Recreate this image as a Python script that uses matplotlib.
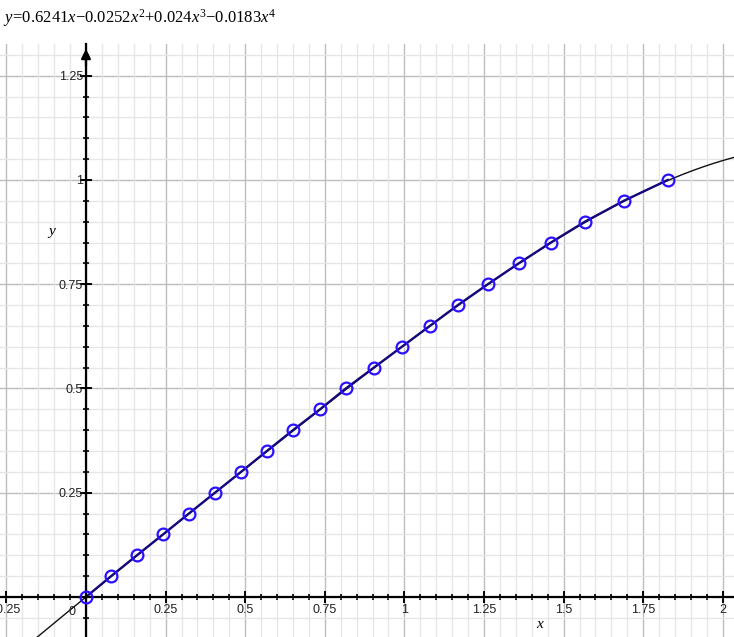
import numpy as np
import matplotlib
matplotlib.use("Agg")
import matplotlib.pyplot as plt
from matplotlib.ticker import MultipleLocator, FixedLocator

# ---- data ----
coef = [0.6241, -0.0252, 0.024, -0.0183]          # x, x^2, x^3, x^4
pts_y = [0.0, 0.05, 0.10, 0.15, 0.20, 0.25, 0.30, 0.35, 0.40, 0.45, 0.50,
         0.55, 0.60, 0.65, 0.70, 0.75, 0.80, 0.85, 0.90, 0.95, 1.00]
pts_x = [0.0, 0.079, 0.160, 0.242, 0.323, 0.405, 0.487, 0.568, 0.650, 0.735,
         0.816, 0.904, 0.992, 1.080, 1.168, 1.262, 1.359, 1.460, 1.567, 1.689, 1.827]
x_ticks = [-0.25, 0.25, 0.5, 0.75, 1, 1.25, 1.5, 1.75, 2]
x_tick_labels = ["-0.25", "0.25", "0.5", "0.75", "1", "1.25", "1.5", "1.75", "2"]
y_ticks = [0.25, 0.5, 0.75, 1, 1.25]
y_tick_labels = ["0.25", "0.5", "0.75", "1", "1.25"]
title = r"$y\!=\!\mathrm{0.6241}x{-}\mathrm{0.0252}x^{2}{+}\mathrm{0.024}x^{3}{-}\mathrm{0.0183}x^{4}$"

plt.rcParams['mathtext.fontset'] = 'custom'
plt.rcParams['mathtext.rm'] = 'Liberation Serif'
plt.rcParams['mathtext.it'] = 'Liberation Serif:italic'

W, H = 734, 637
fig = plt.figure(figsize=(W / 100, H / 100), dpi=100)
ax = fig.add_axes([0, 0, 1, 593 / H])

x0, x1 = -0.270, 2.035
y0, y1 = -0.096, 1.326
ax.set_xlim(x0, x1)
ax.set_ylim(y0, y1)

# grid
ax.xaxis.set_major_locator(FixedLocator(x_ticks))
ax.yaxis.set_major_locator(FixedLocator(y_ticks))
ax.xaxis.set_minor_locator(MultipleLocator(0.05))
ax.yaxis.set_minor_locator(MultipleLocator(0.05))
for v in np.arange(-0.25, 2.05, 0.25):
    ax.axvline(v, color='#bdbdbd', lw=1.0, zorder=0.5)
for v in np.arange(0.25, 1.3, 0.25):
    ax.axhline(v, color='#bdbdbd', lw=1.0, zorder=0.5)
ax.grid(which='minor', color='#e6e6e6', lw=1.0, zorder=0.2)
ax.set_axisbelow(True)

# spines through origin
for s in ['top', 'right']:
    ax.spines[s].set_visible(False)
ax.spines['left'].set_position(('data', 0))
ax.spines['bottom'].set_position(('data', 0))
for s in ['left', 'bottom']:
    ax.spines[s].set_linewidth(1.6)
    ax.spines[s].set_color('black')
    ax.spines[s].set_zorder(3)

ax.set_xticklabels(x_tick_labels)
ax.set_yticklabels(y_tick_labels)
ax.tick_params(which='major', direction='inout', length=8, width=1.4, color='black',
               labelsize=9, labelfontfamily='Liberation Sans', labelcolor='#222222')
ax.tick_params(which='minor', direction='inout', length=5, width=1.2, color='black')
ax.tick_params(axis='x', which='major', pad=1)
ax.tick_params(axis='y', which='major', pad=-2)

# arrow at top of y axis
ax.annotate('', xy=(0, y1 - 0.005), xytext=(0, y1 - 0.06),
            arrowprops=dict(arrowstyle='-|>', color='black', lw=1.6,
                            mutation_scale=14), zorder=4)

# origin label
ax.annotate("0", xy=(0, 0), xytext=(-14, -15), textcoords='offset pixels',
            ha='center', va='center', fontsize=9, family='Liberation Sans',
            color='#222222')

# curve
xx = np.linspace(x0, x1, 600)
yy = sum(c * xx ** (i + 1) for i, c in enumerate(coef))
ax.plot(xx, yy, color='#111111', lw=1.0, zorder=2)

# data points
ax.plot(pts_x, pts_y, color='#14087a', lw=1.7, zorder=2.5)
ax.plot(pts_x, pts_y, ls='none', marker='o', ms=8.5, mfc='none', mec='#2a10ff',
        mew=1.6, zorder=3.5, clip_on=False)

# axis labels
ax.text(540, H - 624, "x", transform=None, fontsize=11, family='Liberation Serif',
        style='italic', ha='center', va='center')
ax.text(52, H - 232, "y", transform=None, fontsize=11, family='Liberation Serif',
        style='italic', ha='center', va='center')

# title
fig.text(3 / W, 1 - 18 / H, title, fontsize=12, ha='left', va='center')

fig.savefig("out.png", dpi=100)
